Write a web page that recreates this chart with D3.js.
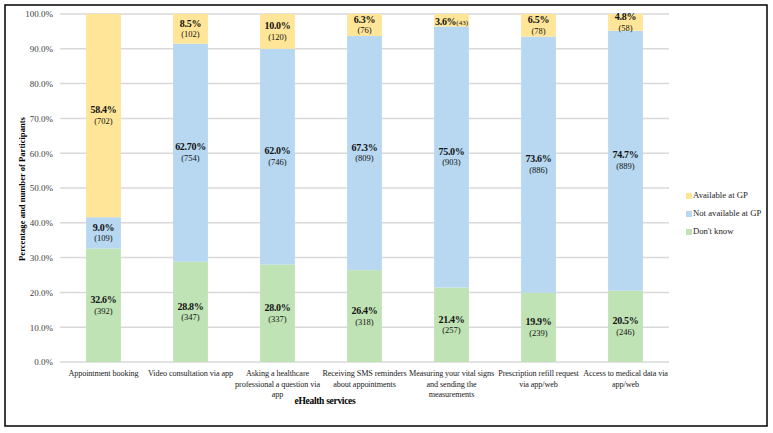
<!DOCTYPE html>
<html>
<head>
<meta charset="utf-8">
<script src="https://cdn.jsdelivr.net/npm/d3@7"></script>
<style>
  body { margin: 0; background: #fff; }
  text { font-family: "Liberation Serif", "Times New Roman", serif; }
</style>
</head>
<body>
<script>
//chart data
var categories = [
    ["Appointment booking"],
    ["Video consultation via app"],
    ["Asking a healthcare", "professional a question via", "app"],
    ["Receiving SMS reminders", "about appointments"],
    ["Measuring your vital signs", "and sending the", "measurements"],
    ["Prescription refill request", "via app/web"],
    ["Access to medical data via", "app/web"]
];
var seriesNames = ["Don't know", "Not available at GP", "Available at GP"];
var dontKnowPct = [32.6, 28.8, 28.0, 26.4, 21.4, 19.9, 20.5];
var notAvailPct = [9.0, 62.7, 62.0, 67.3, 75.0, 73.6, 74.7];
var availPct = [58.4, 8.5, 10.0, 6.3, 3.6, 6.5, 4.8];
var dontKnowN = [392, 347, 337, 318, 257, 239, 246];
var notAvailN = [109, 754, 746, 809, 903, 886, 889];
var availN = [702, 102, 120, 76, 43, 78, 58];
//label text as printed (one is printed with two decimals)
var notAvailLabel = ["9.0%", "62.70%", "62.0%", "67.3%", "75.0%", "73.6%", "74.7%"];
var yTicks = [0, 10, 20, 30, 40, 50, 60, 70, 80, 90, 100];

var width = 773, height = 433;
var colors = ["#c0e3b5", "#b7d8f0", "#ffe597"];

var svg = d3.select("body").append("svg")
    .attr("width", width)
    .attr("height", height);

//outer frame
svg.append("rect")
    .attr("x", 5).attr("y", 5)
    .attr("width", 762).attr("height", 421)
    .attr("fill", "#fff")
    .attr("stroke", "#000")
    .attr("stroke-width", 1.5);

var x = d3.scaleBand()
    .domain(d3.range(categories.length))
    .range([60, 669])
    .paddingInner(0.6)
    .paddingOuter(0.3);

var y = d3.scaleLinear()
    .domain([0, 100])
    .range([362, 14]);

//gridlines
svg.append("g").selectAll("line")
    .data(yTicks)
    .enter().append("line")
    .attr("x1", 60).attr("x2", 669)
    .attr("y1", function(d){ return y(d); })
    .attr("y2", function(d){ return y(d); })
    .attr("stroke", "#d9d9d9")
    .attr("stroke-width", 1.5);

//y axis labels
var yAxis = svg.append("g")
    .attr("transform", "translate(53,0)")
    .call(d3.axisLeft(y).tickValues(yTicks).tickSize(0).tickPadding(0)
        .tickFormat(function(d){ return d.toFixed(1) + "%"; }));
yAxis.select(".domain").remove();
yAxis.selectAll("text")
    .attr("font-family", "Liberation Serif")
    .attr("font-size", 9)
    .attr("fill", "#404040");

//stack data
var rows = categories.map(function(c, i){
    return { i: i, a: dontKnowPct[i], b: notAvailPct[i], c: availPct[i] };
});
var stack = d3.stack().keys(["a", "b", "c"]);
var layers = stack(rows);
var counts = [dontKnowN, notAvailN, availN];

var groups = svg.append("g").selectAll("g")
    .data(layers)
    .enter().append("g")
    .attr("fill", function(d, k){ return colors[k]; });

groups.selectAll("rect")
    .data(function(d){ return d; })
    .enter().append("rect")
    .attr("x", function(d){ return x(d.data.i); })
    .attr("width", x.bandwidth())
    .attr("y", function(d){ return y(d[1]); })
    .attr("height", function(d){ return y(d[0]) - y(d[1]); });

//segment labels
var labels = svg.append("g").attr("fill", "#111");
layers.forEach(function(layer, k){
    layer.forEach(function(d){
        var i = d.data.i;
        var cx = x(i) + x.bandwidth() / 2;
        var cy = (y(d[0]) + y(d[1])) / 2;
        var pct = k === 1 ? notAvailLabel[i] : (d[1] - d[0]).toFixed(1) + "%";
        var h = y(d[0]) - y(d[1]);
        if (h < 15) {
            //small segment, put everything on one line
            var t = labels.append("text")
                .attr("x", cx)
                .attr("y", cy + 3)
                .attr("text-anchor", "middle")
                .attr("dominant-baseline", "middle");
            t.append("tspan").attr("font-weight", "bold").attr("font-size", 10)
                .attr("letter-spacing", -0.3).text(pct);
            t.append("tspan").attr("font-size", 7).text("(" + counts[k][i] + ")");
        } else {
            labels.append("text")
                .attr("x", cx).attr("y", cy - 4.5)
                .attr("text-anchor", "middle")
                .attr("dominant-baseline", "middle")
                .attr("font-weight", "bold")
                .attr("font-size", 10)
                .attr("letter-spacing", -0.3)
                .text(pct);
            labels.append("text")
                .attr("x", cx).attr("y", cy + 6.5)
                .attr("text-anchor", "middle")
                .attr("dominant-baseline", "middle")
                .attr("font-size", 8.5)
                .text("(" + counts[k][i] + ")");
        }
    });
});

//x category labels
var xl = svg.append("g").attr("fill", "#222");
categories.forEach(function(lines, i){
    var t = xl.append("text")
        .attr("text-anchor", "middle")
        .attr("font-size", 8.2)
        .attr("letter-spacing", -0.1);
    lines.forEach(function(line, j){
        t.append("tspan")
            .attr("x", x(i) + x.bandwidth() / 2)
            .attr("y", 376 + j * 10.5)
            .text(line);
    });
});

//axis titles
svg.append("text")
    .attr("x", 325).attr("y", 404)
    .attr("text-anchor", "middle")
    .attr("font-size", 9.5)
    .attr("font-weight", "bold")
    .attr("letter-spacing", -0.3)
    .text("eHealth services");

svg.append("text")
    .attr("transform", "translate(25,189) rotate(-90)")
    .attr("text-anchor", "middle")
    .attr("font-size", 8.6)
    .attr("font-weight", "bold")
    .text("Percentage and number of Participants");

//legend, top entry first
var legendOrder = [2, 1, 0];
var legend = svg.append("g").selectAll("g")
    .data(legendOrder)
    .enter().append("g")
    .attr("transform", function(d, j){ return "translate(686," + (196 + j * 18) + ")"; });
legend.append("rect")
    .attr("x", 0).attr("y", -3)
    .attr("width", 6).attr("height", 6)
    .attr("fill", function(d){ return colors[d]; });
legend.append("text")
    .attr("x", 7).attr("y", 0)
    .attr("dominant-baseline", "middle")
    .attr("font-size", 8.7)
    .attr("fill", "#222")
    .text(function(d){ return seriesNames[d]; });
</script>
</body>
</html>
